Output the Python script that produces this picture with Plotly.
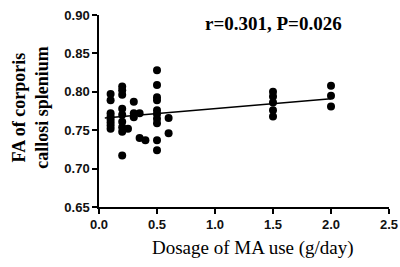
import plotly.graph_objects as go

dose = [0.1, 0.1, 0.1, 0.1, 0.1, 0.1, 0.1, 0.1,
        0.2, 0.2, 0.2, 0.2, 0.2, 0.2, 0.2, 0.2, 0.2, 0.25,
        0.3, 0.3, 0.3, 0.35, 0.35, 0.4,
        0.5, 0.5, 0.5, 0.5, 0.5, 0.5, 0.5, 0.5, 0.5, 0.5,
        0.6, 0.6,
        1.5, 1.5, 1.5, 1.5, 1.5,
        2.0, 2.0, 2.0]
fa = [0.797, 0.789, 0.772, 0.768, 0.764, 0.760, 0.756, 0.752,
      0.807, 0.802, 0.796, 0.778, 0.770, 0.761, 0.754, 0.748, 0.717, 0.752,
      0.787, 0.772, 0.767, 0.772, 0.740, 0.737,
      0.828, 0.809, 0.793, 0.789, 0.776, 0.771, 0.765, 0.759, 0.737, 0.724,
      0.766, 0.746,
      0.800, 0.794, 0.786, 0.776, 0.768,
      0.808, 0.795, 0.781]
fit_x = [0.05, 2.0]
fit_y = [0.766, 0.791]
x_ticks = [0.0, 0.5, 1.0, 1.5, 2.0, 2.5]
y_ticks = [0.65, 0.70, 0.75, 0.80, 0.85, 0.90]

fig = go.Figure()
fig.add_trace(go.Scatter(x=dose, y=fa, mode="markers",
                         marker=dict(color="black", size=8), cliponaxis=False))
fig.add_trace(go.Scatter(x=fit_x, y=fit_y, mode="lines",
                         line=dict(color="black", width=1.5)))

tickfont = dict(family="Liberation Sans, Arial", size=13, color="#111", weight="bold")
axis_common = dict(showline=True, linecolor="black", linewidth=1.5, ticks="outside",
                   ticklen=5, tickwidth=1.5, tickcolor="black", showgrid=False,
                   zeroline=False, tickfont=tickfont, automargin=False)
fig.update_layout(
    width=400, height=267, showlegend=False,
    plot_bgcolor="white", paper_bgcolor="white",
    margin=dict(l=99, r=11, t=15, b=60),
    xaxis=dict(range=[0, 2.5], tickvals=x_ticks, ticktext=[f"{v:.1f}" for v in x_ticks],
               **axis_common),
    yaxis=dict(range=[0.65, 0.90], tickvals=y_ticks, ticktext=[f"{v:.2f}" for v in y_ticks],
               **axis_common),
    font=dict(family="Liberation Sans, Arial", color="black"),
)
fig.add_annotation(text="<b>r=0.301, P=0.026</b>", xref="paper", yref="paper",
                   x=0.60, y=0.958, xanchor="center", yanchor="middle", showarrow=False,
                   font=dict(family="Liberation Serif, Times New Roman", size=19, color="black"))
fig.add_annotation(text="<b>FA of corporis<br>callosi splenium</b>", xref="paper", yref="paper",
                   x=-0.32, y=0.52, xanchor="left", yanchor="middle", showarrow=False,
                   textangle=-90,
                   font=dict(family="Liberation Serif, Times New Roman", size=18, color="black"))
fig.add_annotation(text="Dosage of MA use (g/day)", xref="paper", yref="paper",
                   x=0.53, y=-0.2135, xanchor="center", yanchor="middle", showarrow=False,
                   font=dict(family="Liberation Serif, Times New Roman", size=19, color="black"))

fig.write_html("out.html", config={"displayModeBar": False},
               post_script="document.body.style.margin='0';document.body.style.overflow='hidden';")
